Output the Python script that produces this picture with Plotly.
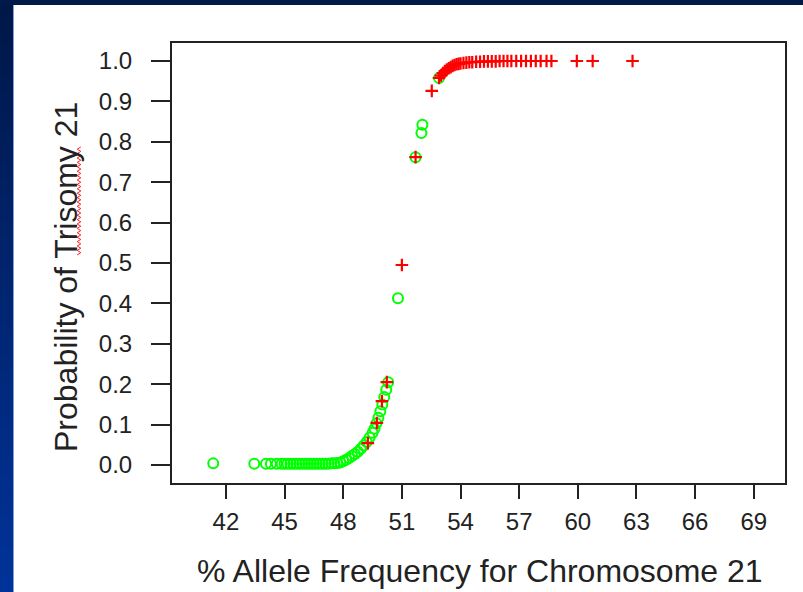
import plotly.graph_objects as go

# ---- data ----
green_x = [41.35, 43.45, 44.05, 44.3, 44.6, 44.85, 45.0, 45.15, 45.3, 45.45, 45.6, 45.75,
           45.9, 46.05, 46.2, 46.35, 46.5, 46.65, 46.8, 46.95, 47.1, 47.25, 47.4, 47.55,
           47.7, 47.85, 48.0, 48.15, 48.3, 48.45, 48.6, 48.75, 48.9, 49.05, 49.2, 49.35,
           49.5, 49.6, 49.7, 49.8, 49.9, 50.0, 50.1, 50.2, 50.3, 50.8, 51.7, 52.0, 52.05, 52.9]
green_y = [0.004, 0.003, 0.003, 0.003, 0.003, 0.003, 0.003, 0.003, 0.003, 0.003, 0.003, 0.003,
           0.003, 0.003, 0.003, 0.003, 0.003, 0.003, 0.003, 0.003, 0.003, 0.003, 0.004, 0.004,
           0.005, 0.006, 0.009, 0.013, 0.017, 0.022, 0.027, 0.033, 0.040, 0.048, 0.057, 0.068,
           0.080, 0.090, 0.103, 0.117, 0.133, 0.150, 0.168, 0.186, 0.205, 0.413, 0.762, 0.822, 0.842, 0.958]

red_x = [49.26, 49.72, 49.98, 50.23, 51.0, 51.7, 52.53, 52.9, 53.0, 53.1, 53.2, 53.3, 53.4,
         53.5, 53.6, 53.7, 53.8, 53.9, 54.0, 54.15, 54.3, 54.45, 54.6, 54.8, 55.0, 55.2, 55.4,
         55.6, 55.8, 56.0, 56.2, 56.4, 56.6, 56.85, 57.1, 57.35, 57.6, 57.85, 58.1, 58.4, 58.65,
         59.95, 60.76, 62.8]
red_y = [0.054, 0.104, 0.158, 0.205, 0.495, 0.762, 0.926, 0.958, 0.964, 0.970, 0.975, 0.979, 0.982,
         0.985, 0.988, 0.990, 0.992, 0.993, 0.994, 0.995, 0.996, 0.997, 0.997, 0.998, 0.998, 0.999, 0.999,
         0.999, 0.999, 1.0, 1.0, 1.0, 1.0, 1.0, 1.0, 1.0, 1.0, 1.0, 1.0, 1.0, 1.0,
         1.0, 1.0, 1.0]

x_ticks = [42, 45, 48, 51, 54, 57, 60, 63, 66, 69]
y_ticks = [0.0, 0.1, 0.2, 0.3, 0.4, 0.5, 0.6, 0.7, 0.8, 0.9, 1.0]

x_title = "% Allele Frequency for Chromosome 21"
y_title = "Probability of Trisomy 21"

W, H = 803, 592
L, R, T, B = 172, 785, 43, 483  # plot box in pixels

fig = go.Figure()
fig.add_trace(go.Scatter(x=green_x, y=green_y, mode="markers",
                         marker=dict(symbol="circle-open", size=10, color="#00ff00",
                                     line=dict(width=2, color="#00ff00")),
                         showlegend=False, hoverinfo="skip"))
fig.add_trace(go.Scatter(x=red_x, y=red_y, mode="markers",
                         marker=dict(symbol="cross-thin-open", size=9, color="#ff0000",
                                     line=dict(width=2.2, color="#ff0000")),
                         showlegend=False, hoverinfo="skip"))

def px2paper_x(px):
    return (px - L) / (R - L)

def px2paper_y(py):
    return (B - py) / (B - T)

shapes = []
# slide background: dark navy frame with gradient on left
n = 40
for i in range(n):
    f = i / (n - 1)
    g = int(0x18 + f * (0x33 - 0x18))
    b = int(0x48 + f * (0x99 - 0x48))
    y0 = i * H / n
    y1 = (i + 1) * H / n + 1
    shapes.append(dict(type="rect", xref="paper", yref="paper", layer="below",
                       x0=px2paper_x(0), x1=px2paper_x(14),
                       y0=px2paper_y(y1), y1=px2paper_y(y0),
                       fillcolor=f"rgb(0,{g},{b})", line=dict(width=0)))
shapes.append(dict(type="rect", xref="paper", yref="paper", layer="below",
                   x0=px2paper_x(0), x1=px2paper_x(W), y0=px2paper_y(5), y1=px2paper_y(0),
                   fillcolor="#001a4a", line=dict(width=0)))
shapes.append(dict(type="rect", xref="paper", yref="paper", layer="below",
                   x0=px2paper_x(13), x1=px2paper_x(W + 2), y0=px2paper_y(H + 2), y1=px2paper_y(5),
                   fillcolor="white", line=dict(width=0)))
shapes.append(dict(type="line", xref="paper", yref="paper", layer="below",
                   x0=px2paper_x(13.5), x1=px2paper_x(13.5), y0=px2paper_y(H), y1=px2paper_y(5),
                   line=dict(color="#7f9fd8", width=1)))

# red spell-check squiggle beside "Trisomy"
pts = []
yy = 147.0
k = 0
while yy <= 256:
    xx = 79 + (1.8 if k % 2 == 0 else -1.8)
    pts.append((px2paper_x(xx), px2paper_y(yy)))
    yy += 2.2
    k += 1
path = "M " + " L ".join(f"{a:.5f},{b:.5f}" for a, b in pts)
shapes.append(dict(type="path", xref="paper", yref="paper", path=path,
                   line=dict(color="#ff2020", width=1)))

annotations = [
    dict(text=x_title, xref="paper", yref="paper", x=px2paper_x(480), y=px2paper_y(571),
         xanchor="center", yanchor="middle", showarrow=False,
         font=dict(size=32, color="#222")),
    dict(text=y_title, xref="paper", yref="paper", x=px2paper_x(66), y=px2paper_y(277),
         xanchor="center", yanchor="middle", showarrow=False, textangle=-90,
         font=dict(size=32, color="#222")),
]

fig.update_layout(
    width=W, height=H,
    margin=dict(l=L, r=W - R, t=T, b=H - B),
    paper_bgcolor="#001a4a",
    plot_bgcolor="white",
    font=dict(family="Liberation Sans, Arial, sans-serif", color="#222"),
    shapes=shapes,
    annotations=annotations,
    hovermode=False,
)
fig.update_xaxes(range=[39.24, 70.6], tickvals=x_ticks, ticktext=[str(v) for v in x_ticks],
                 automargin=False,
                 showgrid=False, zeroline=False, showline=True, mirror=True,
                 linecolor="#222", linewidth=2, ticks="outside", ticklen=14, tickwidth=2,
                 tickcolor="#222", tickfont=dict(size=24, color="#222"), ticklabelstandoff=2)
fig.update_yaxes(range=[-0.0446, 1.0446], tickvals=y_ticks,
                 ticktext=[f"{v:.1f}" for v in y_ticks],
                 automargin=False,
                 showgrid=False, zeroline=False, showline=True, mirror=True,
                 linecolor="#222", linewidth=2, ticks="outside", ticklen=19, tickwidth=2,
                 tickcolor="#222", tickfont=dict(size=24, color="#222"), ticklabelstandoff=14)

fig.write_html("out.html", config={"displayModeBar": False},
               post_script="document.body.style.margin='0';document.body.style.overflow='hidden';")
